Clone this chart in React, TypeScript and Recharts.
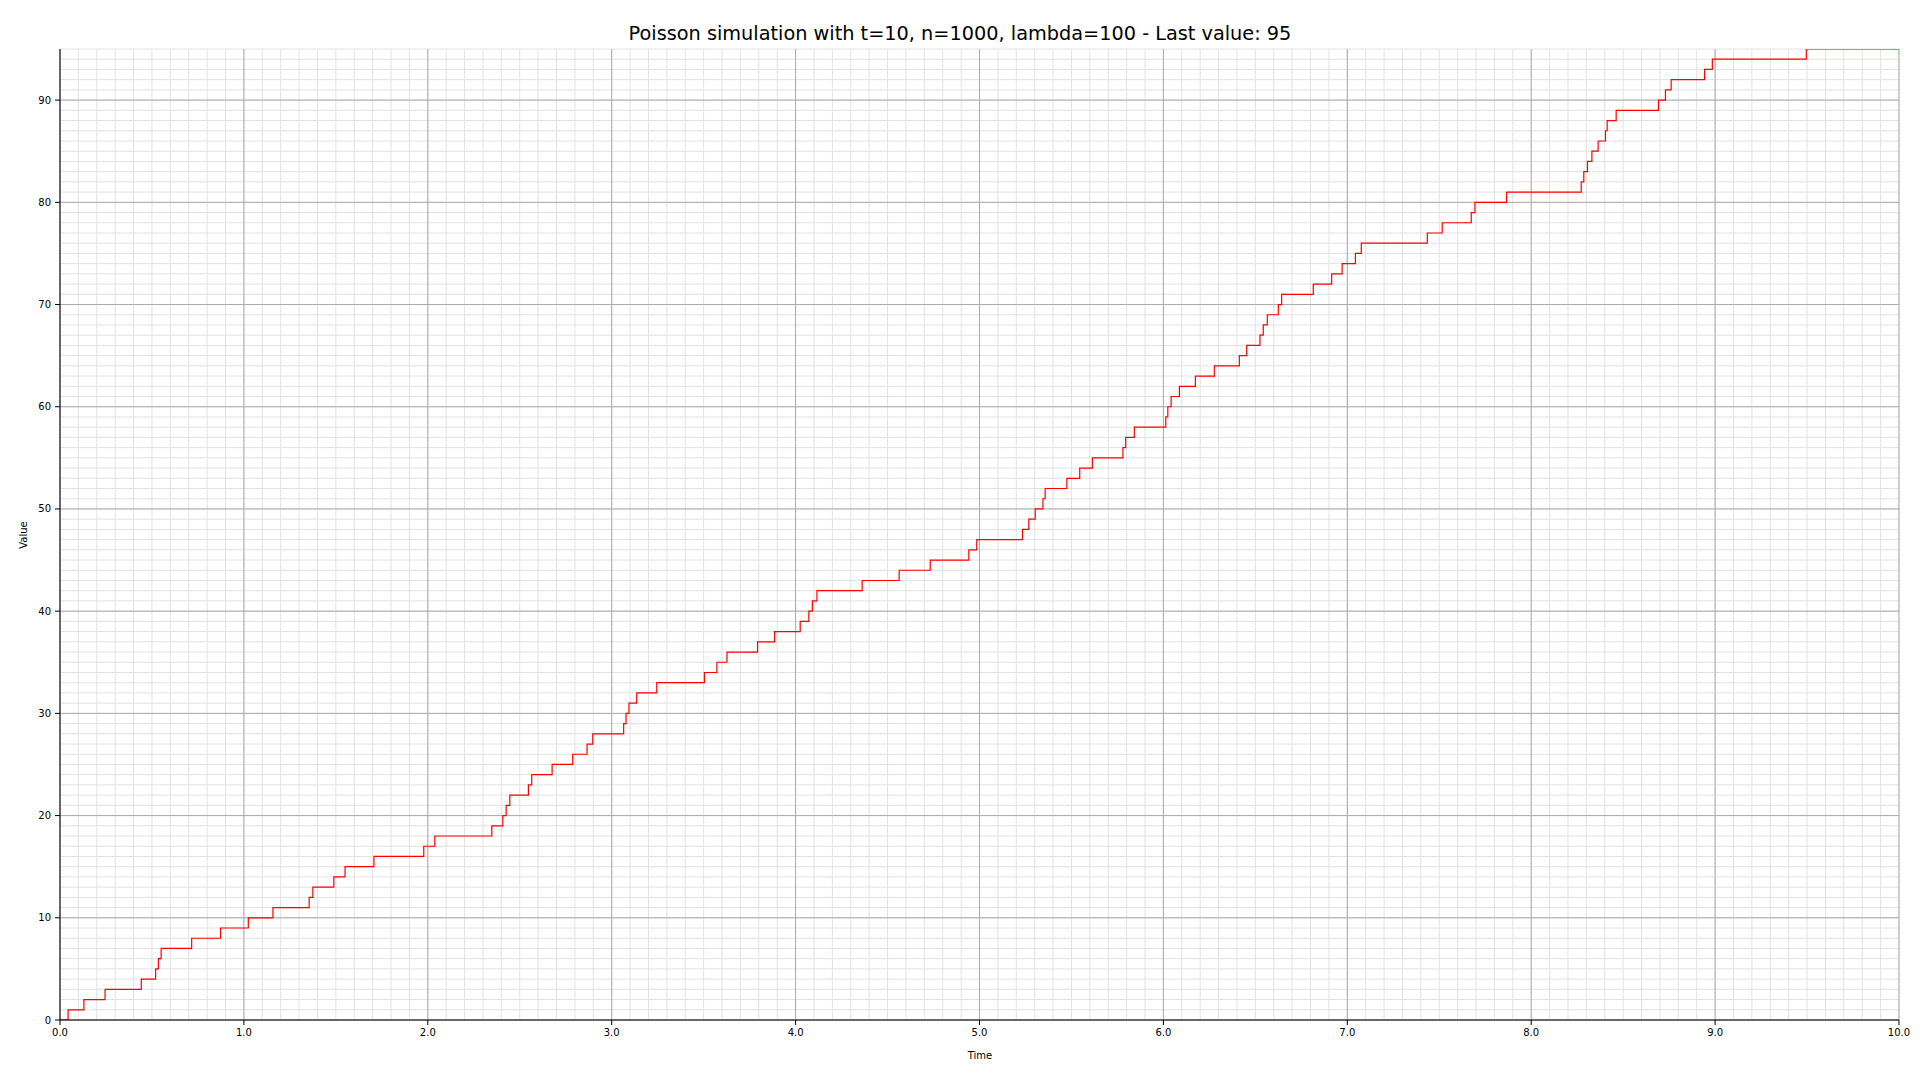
import { LineChart, Line, XAxis, YAxis, CartesianGrid } from 'recharts';

// arrival times, one per +1 jump of the counter
const arrivalTimes = [
  0.044, 0.13, 0.245, 0.442, 0.52, 0.535, 0.55, 0.716, 0.873, 1.024,
  1.158, 1.355, 1.375, 1.489, 1.55, 1.707, 1.978, 2.038, 2.348, 2.408,
  2.426, 2.446, 2.547, 2.565, 2.676, 2.788, 2.866, 2.897, 3.065, 3.078,
  3.094, 3.136, 3.245, 3.504, 3.572, 3.627, 3.793, 3.886, 4.025, 4.072,
  4.091, 4.116, 4.362, 4.563, 4.732, 4.942, 4.985, 5.234, 5.268, 5.303,
  5.345, 5.357, 5.475, 5.545, 5.614, 5.78, 5.795, 5.842, 6.013, 6.024,
  6.042, 6.087, 6.174, 6.277, 6.413, 6.453, 6.525, 6.543, 6.565, 6.625,
  6.643, 6.815, 6.915, 6.972, 7.044, 7.076, 7.435, 7.516, 7.674, 7.694,
  7.866, 8.272, 8.286, 8.306, 8.33, 8.364, 8.404, 8.413, 8.462, 8.692,
  8.73, 8.761, 8.943, 8.985, 9.496,
];

const endTime = 10;
const xTicks = [0, 1, 2, 3, 4, 5, 6, 7, 8, 9, 10];
const yTicks = [0, 10, 20, 30, 40, 50, 60, 70, 80, 90];
const xMinor = Array.from({ length: 101 }, (_, i) => i / 10);
const yMinor = Array.from({ length: 96 }, (_, i) => i);

// counter path: starts at 0, steps up by one at every arrival
const pathData = [
  { t: 0, v: 0 },
  ...arrivalTimes.map((t, i) => ({ t, v: i + 1 })),
  { t: endTime, v: arrivalTimes.length },
];

const FONT = '"DejaVu Sans", sans-serif';
const tickStyle = { fill: '#000', fontSize: 10, fontFamily: FONT };

const App = () => {
  return (
    <div style={{ position: 'absolute', left: 0, top: 0, width: 1920, height: 1080, background: '#fff' }}>
      <div
        style={{
          position: 'absolute', left: 0, width: 1920, top: 24, height: 20, lineHeight: '20px',
          textAlign: 'center', fontFamily: FONT, fontSize: 19.3, color: '#000',
        }}
      >
        Poisson simulation with t=10, n=1000, lambda=100 - Last value: 95
      </div>

      <LineChart width={1920} height={1080} data={pathData} margin={{ top: 49, right: 21, bottom: 0, left: 0 }}>
        <CartesianGrid stroke="#e2e2e2" strokeWidth={1} verticalValues={xMinor} horizontalValues={yMinor} />
        <CartesianGrid stroke="#ababab" strokeWidth={1} verticalValues={xTicks} horizontalValues={yTicks} />
        <XAxis
          dataKey="t"
          type="number"
          domain={[0, 10]}
          ticks={xTicks}
          interval={0}
          allowDataOverflow
          height={60}
          tickFormatter={(v: number) => v.toFixed(1)}
          stroke="#000"
          tickSize={5}
          tickMargin={4}
          tick={tickStyle}
        />
        <YAxis
          type="number"
          domain={[0, 95]}
          ticks={yTicks}
          interval={0}
          allowDataOverflow
          width={60}
          stroke="#000"
          tickSize={5}
          tickMargin={4}
          tick={tickStyle}
        />
        <Line
          type="stepAfter"
          dataKey="v"
          stroke="#ff0000"
          strokeWidth={1.2}
          dot={false}
          activeDot={false}
          isAnimationActive={false}
        />
      </LineChart>

      <div
        style={{
          position: 'absolute', left: 980, top: 1051, width: 60, marginLeft: -30, height: 10,
          lineHeight: '10px', textAlign: 'center', fontFamily: FONT, fontSize: 10, color: '#000',
        }}
      >
        Time
      </div>
      <div
        style={{
          position: 'absolute', left: 24, top: 535, fontFamily: FONT, fontSize: 10, lineHeight: '10px',
          color: '#000', transform: 'translate(-50%, -50%) rotate(-90deg)',
        }}
      >
        Value
      </div>
    </div>
  );
};

export default App;
